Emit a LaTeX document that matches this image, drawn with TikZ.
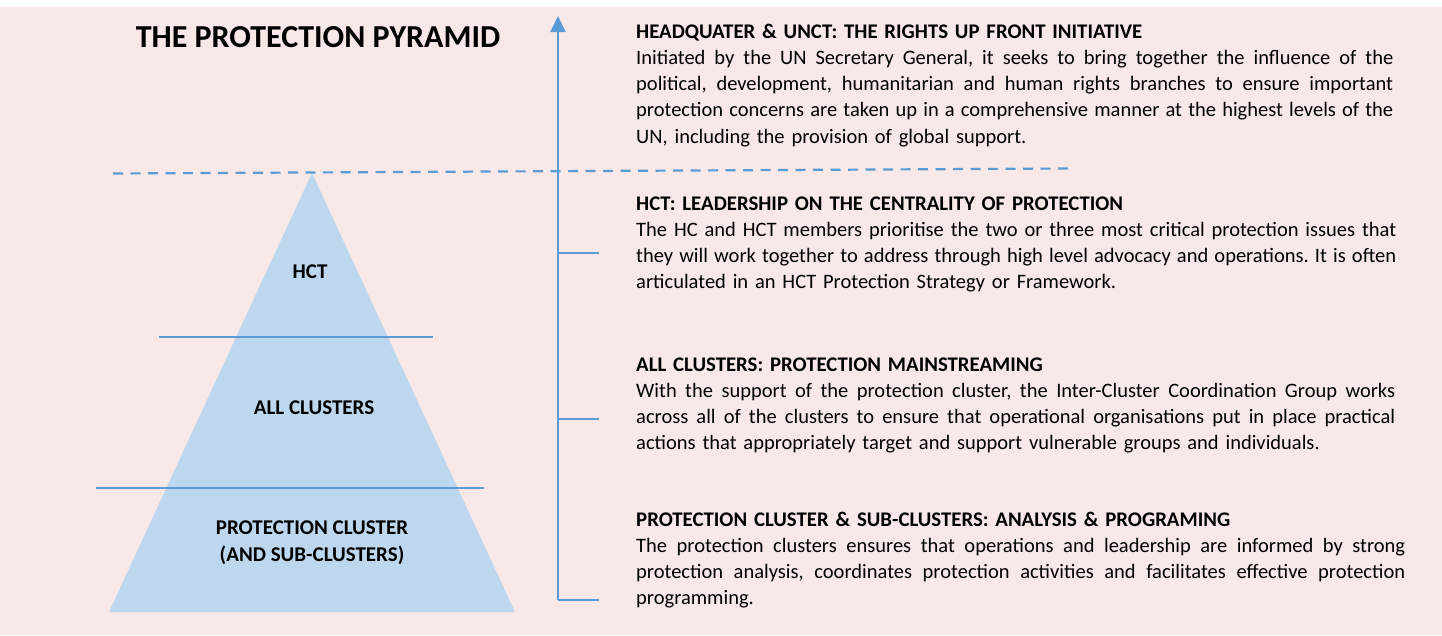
\documentclass[tikz,border=0pt]{standalone}
\usepackage{fontspec}
\setmainfont{Carlito}
\usetikzlibrary{arrows.meta}
\newcommand{\jline}[2]{{\spaceskip=\fontdimen2\font plus 0.5em minus 0.08em\makebox[#1][s]{#2}}}
\frenchspacing

\begin{document}
\begin{tikzpicture}[x=1pt,y=-1pt]
	\definecolor{pinkbg}{HTML}{F8E9E8}
	\definecolor{lineblue}{HTML}{5B9BD5}
	\definecolor{pyrblue}{HTML}{BDD7EE}
	\tikzset{
		blueline/.style={lineblue, line width=2.2pt},
		pyrlabel/.style={font=\fontsize{21}{27}\selectfont\bfseries, align=center, inner sep=0pt},
		infobox/.style={anchor=north west, inner sep=0pt, text width=#1, align=left, font=\fontsize{20.5}{26.3}\selectfont\frenchspacing}
	}
	\useasboundingbox (0,0) rectangle (1442,635);
	\fill[pinkbg] (0,7) rectangle (1442,635);
	
	% pyramid
	\coordinate (apex) at (312,173);
	\coordinate (baseL) at (109,612);
	\coordinate (baseR) at (515,612);
	\fill[pyrblue] (apex) -- (baseR) -- (baseL) -- cycle;
	\draw[blueline] (159,337) -- (433,337);
	\draw[blueline] (96,488) -- (484,488);
	\draw[blueline, dash pattern=on 10pt off 7.5pt] (113,173.5) -- (1069,168.5);
	
	% axis
	\coordinate (axisbot) at (558,600);
	\coordinate (axistop) at (558,16);
	\draw[blueline, -{Triangle[length=16pt,width=15pt]}] (axisbot) -- (axistop);
	\foreach \ty in {253,419,600}
		\draw[blueline] (558,\ty) -- (599,\ty);
	
	% labels
	\node[font=\fontsize{32}{34}\selectfont\bfseries, inner sep=0pt] (title) at (318,37) {THE PROTECTION PYRAMID};
	\node[pyrlabel] (hct) at (310,272) {HCT};
	\node[pyrlabel] (allcl) at (314,408) {ALL CLUSTERS};
	\node[pyrlabel] (protcl) at (312,543) {PROTECTION CLUSTER\\(AND SUB-CLUSTERS)};
	
	% text blocks
	\node[infobox=780pt] (hq) at (636,19.4) {\strut{\fontsize{20.8}{26.3}\selectfont\bfseries HEADQUATER \& UNCT: THE RIGHTS UP FRONT INITIATIVE}\\
		\jline{757pt}{Initiated by the UN Secretary General, it seeks to bring together the influence of the}\\
		\jline{757pt}{political, development, humanitarian and human rights branches to ensure important}\\
		\jline{757pt}{protection concerns are taken up in a comprehensive manner at the highest levels of the}\\
		UN, including the provision of global support.};
	\node[infobox=780pt] (hctlead) at (636,191.4) {\strut{\fontsize{20.8}{26.3}\selectfont\bfseries HCT: LEADERSHIP ON THE CENTRALITY OF PROTECTION}\\
		\jline{760pt}{The HC and HCT members prioritise the two or three most critical protection issues that}\\
		\jline{760pt}{they will work together to address through high level advocacy and operations. It is often}\\
		articulated in an HCT Protection Strategy or Framework.};
	\node[infobox=780pt] (allmain) at (636,352.4) {\strut{\fontsize{20.8}{26.3}\selectfont\bfseries ALL CLUSTERS: PROTECTION MAINSTREAMING}\\
		\jline{759pt}{With the support of the protection cluster, the Inter-Cluster Coordination Group works}\\
		\jline{759pt}{across all of the clusters to ensure that operational organisations put in place practical}\\
		actions that appropriately target and support vulnerable groups and individuals.};
	\node[infobox=780pt] (protan) at (636,507.4) {\strut{\fontsize{20.8}{26.3}\selectfont\bfseries PROTECTION CLUSTER \& SUB-CLUSTERS: ANALYSIS \& PROGRAMING}\\
		\jline{769pt}{The protection clusters ensures that operations and leadership are informed by strong}\\
		\jline{769pt}{protection analysis, coordinates protection activities and facilitates effective protection}\\
		programming.};
\end{tikzpicture}
\end{document}
